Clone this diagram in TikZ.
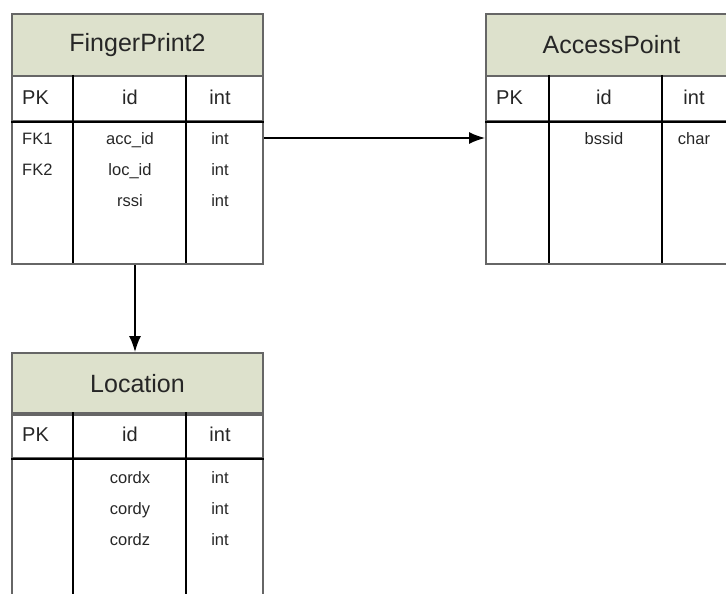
\documentclass[tikz,border=0pt]{standalone}
\usepackage{fontspec}
\setmainfont{Liberation Sans}
\usetikzlibrary{arrows.meta}

\definecolor{hdrgreen}{HTML}{DDE1CC}
\definecolor{tblgray}{HTML}{666666}
\definecolor{txtgray}{HTML}{262626}

\tikzset{
  tbl/.style={draw=tblgray,line width=2pt,anchor=north west,minimum width=251pt,inner sep=0pt},
  hdr/.style={tbl,fill=hdrgreen,minimum height=62pt,text=txtgray,font=\fontsize{25}{25}\selectfont},
  keyrow/.style={tbl,minimum height=45pt},
  body/.style={tbl,minimum height=143pt},
  col/.style={line width=1.5pt},
  txt/.style={inner sep=0pt,anchor=base,text=txtgray,font=\fontsize{20}{20}\selectfont},
  fld/.style={inner sep=0pt,anchor=base,text=txtgray,font=\fontsize{16.5}{16.5}\selectfont}
}

\begin{document}
\begin{tikzpicture}[x=1pt,y=-1pt,>={Latex[length=16pt,width=12pt]}]
\useasboundingbox (0,0) rectangle (726,594);
\clip (0,0) rectangle (726,594);
% FingerPrint2
\node[hdr] (fphead) at (11,13) {FingerPrint2};
\node[keyrow] (fpkey) at (11,75) {};
\node[body] (fpbody) at (11,120) {};
\draw[col] (73,75) -- (73,263) (186,75) -- (186,263);
\draw[col] (fpkey.south west) -- (fpkey.south east);
\node[txt,anchor=base west] (fppk) at (22,104) {PK};
\node[txt] (fpid) at (130,104) {id};
\node[txt] (fpint) at (220,104) {int};
\node[fld,anchor=base west] (fpfk1) at (22,144) {FK1};
\node[fld,anchor=base west] (fpfk2) at (22,175) {FK2};
\node[fld] (fpacc) at (130,144) {acc\_id};
\node[fld] (fploc) at (130,175) {loc\_id};
\node[fld] (fprssi) at (130,206) {rssi};
\node[fld] (fpt1) at (220,144) {int};
\node[fld] (fpt2) at (220,175) {int};
\node[fld] (fpt3) at (220,206) {int};
% AccessPoint
\node[hdr] (aphead) at (485,13) {AccessPoint};
\node[keyrow] (apkey) at (485,75) {};
\node[body] (apbody) at (485,120) {};
\draw[col] (549,75) -- (549,263) (662,75) -- (662,263);
\draw[col] (apkey.south west) -- (apkey.south east);
\node[txt,anchor=base west] (appk) at (496,104) {PK};
\node[txt] (apid) at (604,104) {id};
\node[txt] (apint) at (694,104) {int};
\node[fld] (apbssid) at (604,144) {bssid};
\node[fld] (apchar) at (694,144) {char};
% Location
\node[hdr] (lochead) at (11,352) {Location};
\node[keyrow] (lockey) at (11,412) {};
\node[body] (locbody) at (11,457) {};
\draw[col] (73,412) -- (73,600) (186,412) -- (186,600);
\draw[col] (lockey.south west) -- (lockey.south east);
\node[txt,anchor=base west] (locpk) at (22,441) {PK};
\node[txt] (locid) at (130,441) {id};
\node[txt] (locint) at (220,441) {int};
\node[fld] (locx) at (130,483) {cordx};
\node[fld] (locy) at (130,514) {cordy};
\node[fld] (locz) at (130,545) {cordz};
\node[fld] (loct1) at (220,483) {int};
\node[fld] (loct2) at (220,514) {int};
\node[fld] (loct3) at (220,545) {int};
% relations
\draw[->,line width=1.5pt] (fpbody.east |- 0,138) -- (apbody.west |- 0,138);
\draw[->,line width=1.5pt] (fpbody.south -| 135,0) -- (lochead.north -| 135,0);
\end{tikzpicture}
\end{document}
